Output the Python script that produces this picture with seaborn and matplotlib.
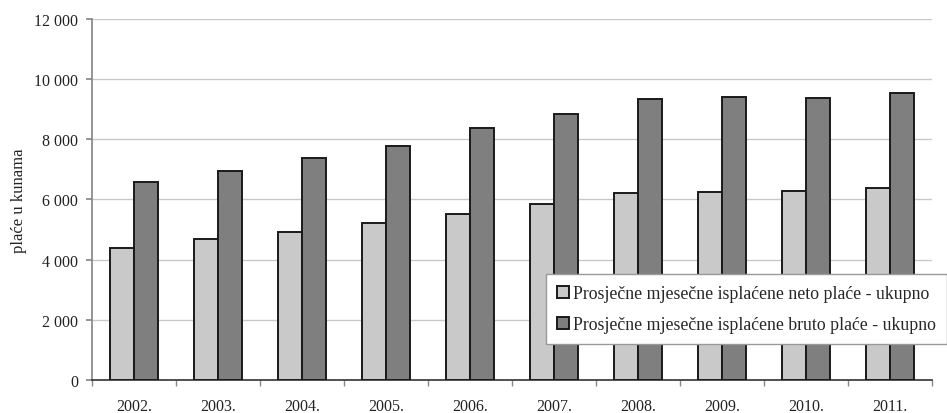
import numpy as np
import pandas as pd
import matplotlib
matplotlib.use("Agg")
import matplotlib.pyplot as plt
import seaborn as sns
from matplotlib.ticker import FuncFormatter, FixedLocator

# values (kuna)
years = ["2002.", "2003.", "2004.", "2005.", "2006.", "2007.", "2008.", "2009.", "2010.", "2011."]
neto = [4400, 4670, 4930, 5220, 5530, 5830, 6200, 6230, 6270, 6370]
bruto = [6570, 6930, 7370, 7780, 8370, 8830, 9330, 9400, 9370, 9530]
series = ["Prosječne mjesečne isplaćene neto plaće - ukupno",
          "Prosječne mjesečne isplaćene bruto plaće - ukupno"]
y_ticks = [0, 2000, 4000, 6000, 8000, 10000, 12000]

df = pd.DataFrame({
    "godina": years * 2,
    "serija": [series[0]] * len(years) + [series[1]] * len(years),
    "place": neto + bruto,
})

sns.set_theme(style="white")
plt.rcParams["font.family"] = ["Liberation Serif", "DejaVu Serif"]

fig = plt.figure(figsize=(9.47, 4.14), dpi=100)
ax = fig.add_axes([0.097, 0.080, 0.887, 0.872])

sns.barplot(data=df, x="godina", y="place", hue="serija", hue_order=series,
            palette=["#c9c9c9", "#7f7f7f"], width=0.57, edgecolor="#1a1a1a",
            linewidth=1.4, saturation=1, ax=ax, zorder=3)

ax.set_ylim(0, 12000)
ax.set_xlim(-0.5, len(years) - 0.5)
ax.yaxis.set_major_locator(FixedLocator(y_ticks))
ax.yaxis.set_major_formatter(FuncFormatter(lambda v, p: f"{int(v):,}".replace(",", " ")))
ax.grid(axis="y", color="#c8c8c8", linewidth=1.0, zorder=0)
ax.set_axisbelow(True)

for s in ["top", "right"]:
    ax.spines[s].set_visible(False)
ax.spines["left"].set_color("#888888")
ax.spines["bottom"].set_color("#333333")
ax.spines["bottom"].set_linewidth(1.2)

ax.set_xticks(np.arange(-0.5, len(years), 1.0), minor=True)
ax.tick_params(axis="x", which="major", length=0, pad=13, labelsize=11.5, labelcolor="#222222")
ax.tick_params(axis="x", which="minor", length=4, color="#888888", direction="out", bottom=True)
ax.tick_params(axis="y", length=4, color="#888888", direction="out", left=True,
               labelsize=11.5, labelcolor="#222222", pad=6)

ax.set_xlabel("")
ax.set_ylabel("plaće u kunama", fontsize=12, color="#222222", labelpad=5)

ax.legend(loc="lower right", bbox_to_anchor=(1.0, 0.167), bbox_transform=fig.transFigure,
          frameon=True, fancybox=False, edgecolor="#999999", framealpha=1,
          fontsize=12.8, handlelength=0.7, handleheight=0.7, handletextpad=0.25,
          labelspacing=0.8, borderpad=0.6, borderaxespad=0)

fig.savefig("out.png", dpi=100)
